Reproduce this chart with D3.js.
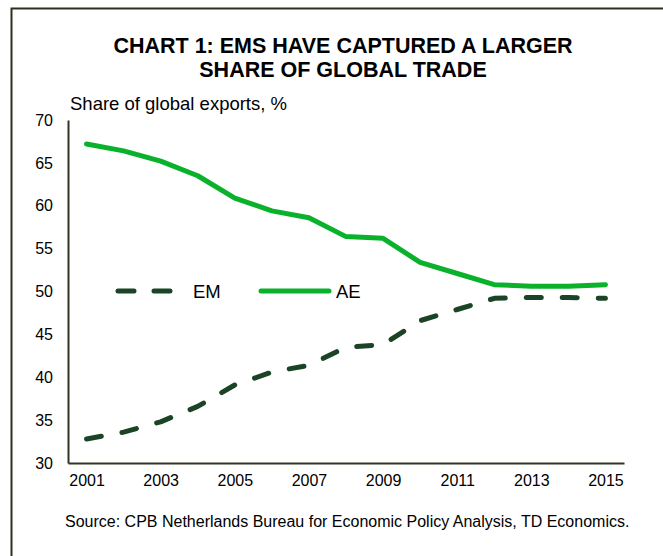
<!DOCTYPE html>
<html>
<head>
<meta charset="utf-8">
<script src="https://cdn.jsdelivr.net/npm/d3@7"></script>
<style>
  html, body { margin: 0; padding: 0; background: #ffffff; }
  svg { display: block; font-family: "Liberation Sans", Arial, sans-serif; }
</style>
</head>
<body>
<svg id="chart" width="663" height="556"></svg>
<script>
// Share of global exports, %, by year
const years = ["2001","2002","2003","2004","2005","2006","2007","2008","2009","2010","2011","2012","2013","2014","2015"];
const emValues = [32.8, 33.6, 34.8, 36.6, 39.1, 40.6, 41.4, 43.5, 43.8, 46.6, 47.9, 49.2, 49.3, 49.3, 49.2];
const aeValues = [67.2, 66.4, 65.2, 63.5, 60.9, 59.4, 58.6, 56.4, 56.2, 53.4, 52.1, 50.8, 50.6, 50.6, 50.8];
const xTickLabels = ["2001","2003","2005","2007","2009","2011","2013","2015"];
const yTicks = [30, 35, 40, 45, 50, 55, 60, 65, 70];

const svg = d3.select("#chart");
const axisColor = "#2f3624";
const emColor = "#1b4427";
const aeColor = "#0ab22c";
const fontFamily = "Liberation Sans, Arial, sans-serif";

// Frame around the panel (left and top edges fall inside the canvas)
svg.append("path")
  .attr("d", "M11.5,556 L11.5,8.5 L663,8.5")
  .attr("fill", "none")
  .attr("stroke", "#2a311f")
  .attr("stroke-width", 2);

// Title
const title = svg.append("text")
  .attr("text-anchor", "middle")
  .attr("font-weight", "bold")
  .attr("font-size", 21.5)
  .attr("fill", "#000");
title.append("tspan").attr("x", 343).attr("y", 52.5).text("CHART 1: EMS HAVE CAPTURED A LARGER");
title.append("tspan").attr("x", 343).attr("y", 77).text("SHARE OF GLOBAL TRADE");

// Axis title
svg.append("text")
  .attr("x", 70).attr("y", 110)
  .attr("font-size", 18.5)
  .attr("fill", "#000")
  .text("Share of global exports, %");

const x = d3.scalePoint().domain(years).range([68, 624]).padding(0.5);
const y = d3.scaleLinear().domain([30, 70]).range([463, 120]);

// Y axis
const yAxis = svg.append("g")
  .attr("transform", "translate(68,0)")
  .call(d3.axisLeft(y).tickValues(yTicks).tickSize(0).tickPadding(15).tickFormat(d3.format("d")));
yAxis.select(".domain").attr("stroke", axisColor).attr("stroke-width", 2);
yAxis.selectAll("text").attr("font-size", 16).attr("fill", "#000").attr("font-family", fontFamily);

// X axis
const xAxis = svg.append("g")
  .attr("transform", "translate(0,463)")
  .call(d3.axisBottom(x).tickValues(xTickLabels).tickSize(0).tickPadding(12));
xAxis.select(".domain").attr("stroke", axisColor).attr("stroke-width", 2);
xAxis.selectAll("text").attr("font-size", 16).attr("fill", "#000").attr("font-family", fontFamily);

// Series lines
const line = d3.line().x((d, i) => x(years[i])).y(d => y(d));

svg.append("path")
  .datum(aeValues)
  .attr("d", line)
  .attr("fill", "none")
  .attr("stroke", aeColor)
  .attr("stroke-width", 5)
  .attr("stroke-linecap", "round")
  .attr("stroke-linejoin", "round");

svg.append("path")
  .datum(emValues)
  .attr("d", line)
  .attr("fill", "none")
  .attr("stroke", emColor)
  .attr("stroke-width", 5)
  .attr("stroke-linecap", "round")
  .attr("stroke-linejoin", "round")
  .attr("stroke-dasharray", "15,21");

// Legend
const legendY = 291;
const legend = svg.append("g");
legend.append("line")
  .attr("x1", 118).attr("x2", 172).attr("y1", legendY).attr("y2", legendY)
  .attr("stroke", emColor).attr("stroke-width", 5)
  .attr("stroke-linecap", "round").attr("stroke-dasharray", "16,20");
legend.append("text")
  .attr("x", 193).attr("y", legendY + 6.5)
  .attr("font-size", 18.5).attr("fill", "#000").text("EM");
legend.append("line")
  .attr("x1", 261).attr("x2", 329).attr("y1", legendY).attr("y2", legendY)
  .attr("stroke", aeColor).attr("stroke-width", 5)
  .attr("stroke-linecap", "round");
legend.append("text")
  .attr("x", 336).attr("y", legendY + 6.5)
  .attr("font-size", 18.5).attr("fill", "#000").text("AE");

// Source note
svg.append("text")
  .attr("x", 65).attr("y", 527)
  .attr("font-size", 16)
  .attr("fill", "#000")
  .text("Source: CPB Netherlands Bureau for Economic Policy Analysis, TD Economics.");
</script>
</body>
</html>
